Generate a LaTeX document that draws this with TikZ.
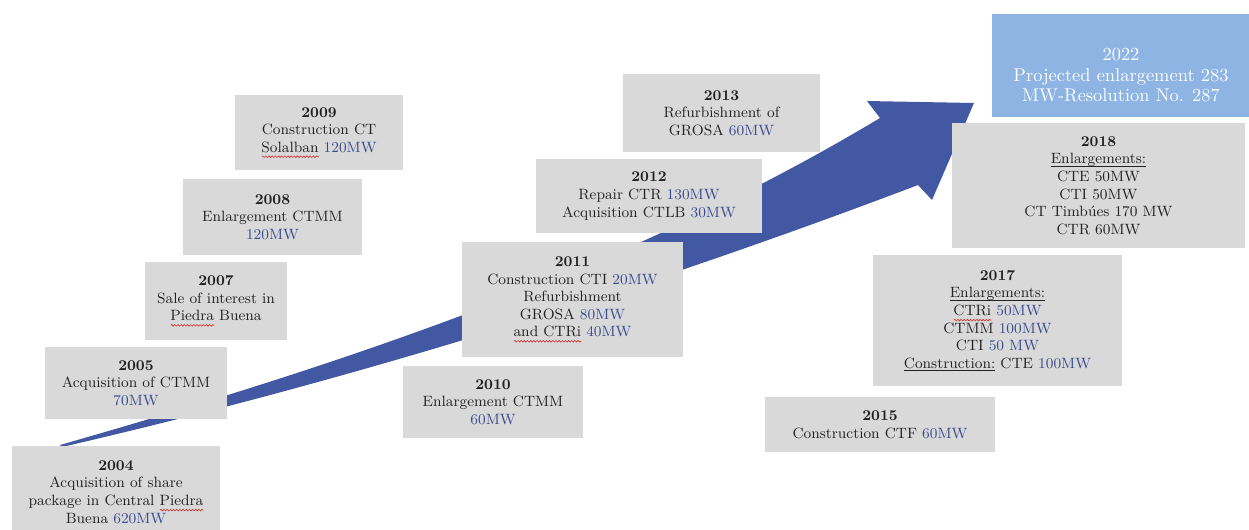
\documentclass[tikz,border=0pt]{standalone}
\usepackage{tikz}
\usetikzlibrary{decorations.pathmorphing}
\usepackage{xcolor}
\definecolor{BoxGrey}{HTML}{D9D9D9}
\definecolor{ArrowBlue}{HTML}{4358A3}
\definecolor{SkyBlue}{HTML}{8DB4E2}
\definecolor{MWBlue}{HTML}{3B4B8F}
\definecolor{InkGrey}{HTML}{222222}
\definecolor{SpellRed}{HTML}{D03030}
\newcommand{\mw}{\textcolor{MWBlue}}
\newsavebox{\wavebox}
\newcommand{\redwave}[1]{\sbox{\wavebox}{#1}\leavevmode\rlap{\tikz[baseline=2.6pt]
  \draw[SpellRed,line width=0.35pt,decorate,decoration={snake,amplitude=0.45pt,segment length=1.8pt}]
  (0pt,0pt) -- (\wd\wavebox,0pt);}\usebox{\wavebox}}
\newcommand{\ulword}[1]{\sbox{\wavebox}{#1}\leavevmode\rlap{\rule[-1.4pt]{\wd\wavebox}{0.45pt}}\usebox{\wavebox}}

\begin{document}
\begin{tikzpicture}[x=0.02cm,y=-0.02cm,
    yearbox/.style={fill=BoxGrey,text=InkGrey,align=center,inner sep=0pt,
      font=\fontsize{8.5}{10}\selectfont},
    planbox/.style={fill=SkyBlue,text=white,align=center,inner sep=0pt,
      font=\fontsize{10.5}{11.5}\selectfont}]
    \useasboundingbox (0,0) rectangle (1249,529);
    \clip (0,0) rectangle (1249,529);

    % growth arrow behind the boxes
    \fill[ArrowBlue] (60,445) .. controls (350,362) and (630,268) .. (880,118)
      -- (867,101) -- (974,103) -- (932,200) -- (918,185)
      .. controls (618,299) and (330,385) .. (62,447) -- cycle;

    % milestones
    \node[yearbox,minimum width=4.16cm,minimum height=1.84cm] (y2004) at (116,492)
      {\textbf{2004}\\Acquisition of share\\package in Central \redwave{Piedra}\\Buena \mw{620MW}};
    \node[yearbox,minimum width=3.64cm,minimum height=1.44cm] (y2005) at (136,383)
      {\textbf{2005}\\Acquisition of CTMM\\\mw{70MW}};
    \node[yearbox,minimum width=2.84cm,minimum height=1.56cm] (y2007) at (216,301)
      {\textbf{2007}\\Sale of interest in\\\redwave{Piedra} Buena};
    \node[yearbox,minimum width=3.58cm,minimum height=1.52cm] (y2008) at (272.5,217)
      {\textbf{2008}\\Enlargement CTMM\\\mw{120MW}};
    \node[yearbox,minimum width=3.36cm,minimum height=1.5cm] (y2009) at (319,132.5)
      {\textbf{2009}\\Construction CT\\\redwave{Solalban} \mw{120MW}};
    \node[yearbox,minimum width=3.6cm,minimum height=1.44cm] (y2010) at (493,402)
      {\textbf{2010}\\Enlargement CTMM\\\mw{60MW}};
    \node[yearbox,minimum width=4.42cm,minimum height=2.3cm] (y2011) at (572.5,299.5)
      {\textbf{2011}\\Construction CTI \mw{20MW}\\Refurbishment\\GROSA \mw{80MW}\\\redwave{and CTRi} \mw{40MW}};
    \node[yearbox,minimum width=4.52cm,minimum height=1.48cm] (y2012) at (649,196)
      {\textbf{2012}\\Repair CTR \mw{130MW}\\Acquisition CTLB \mw{30MW}};
    \node[yearbox,minimum width=3.94cm,minimum height=1.56cm] (y2013) at (721.5,113)
      {\textbf{2013}\\Refurbishment of\\GROSA \mw{60MW}};
    \node[yearbox,minimum width=4.6cm,minimum height=1.1cm] (y2015) at (880,424.5)
      {\textbf{2015}\\Construction CTF \mw{60MW}};
    \node[yearbox,minimum width=4.98cm,minimum height=2.62cm] (y2017) at (997.5,320.5)
      {\textbf{2017}\\\ulword{Enlargements:}\\\redwave{CTRi} \mw{50MW}\\CTMM \mw{100MW}\\CTI \mw{50 MW}\\\ulword{Construction:} CTE \mw{100MW}};
    \node[yearbox,minimum width=5.86cm,minimum height=2.5cm] (y2018) at (1098.5,185.5)
      {\textbf{2018}\\\ulword{Enlargements:}\\CTE 50MW\\CTI 50MW\\CT Timbúes 170 MW\\CTR 60MW};
    \node[planbox,minimum width=5.16cm,minimum height=2.06cm] (y2022) at (1121,65.5)
      {\rule{0pt}{18pt}2022\\Projected enlargement 283\\MW-Resolution No. 287};
\end{tikzpicture}
\end{document}
